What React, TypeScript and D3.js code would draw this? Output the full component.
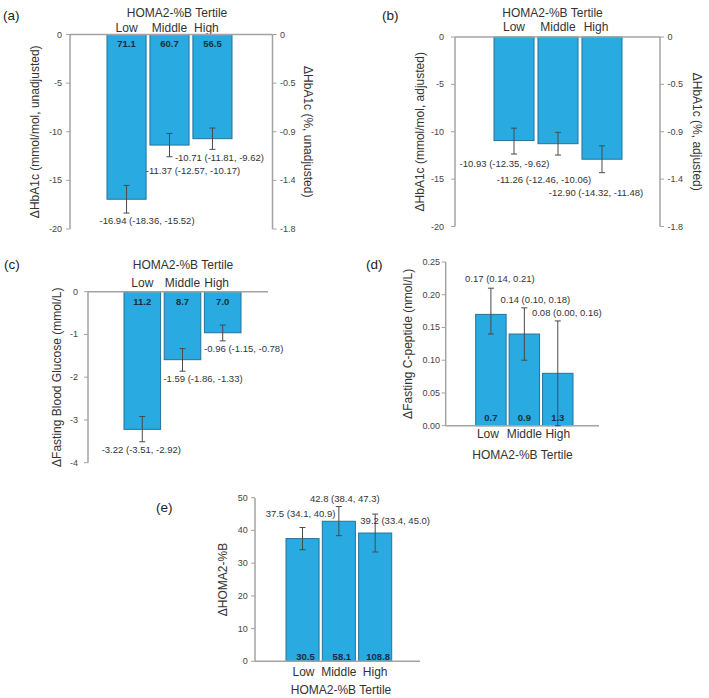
import * as d3 from "d3";
import React from "react";

// shared categories
const tertiles = ["Low", "Middle", "High"];

// (a) HbA1c unadjusted
const hbUnadj = [-16.94, -11.37, -10.71];
const hbUnadjLo = [-18.36, -12.57, -11.81];
const hbUnadjHi = [-15.52, -10.17, -9.62];
const hbBaseline = ["71.1", "60.7", "56.5"];

// (b) HbA1c adjusted
const hbAdj = [-10.93, -11.26, -12.9];
const hbAdjLo = [-12.35, -12.46, -14.32];
const hbAdjHi = [-9.62, -10.06, -11.48];

// (c) fasting blood glucose
const fbg = [-3.22, -1.59, -0.96];
const fbgLo = [-3.51, -1.86, -1.15];
const fbgHi = [-2.92, -1.33, -0.78];
const fbgBaseline = ["11.2", "8.7", "7.0"];

// (d) fasting C-peptide
const cpep = [0.17, 0.14, 0.08];
const cpepLo = [0.14, 0.1, 0.0];
const cpepHi = [0.21, 0.18, 0.16];
const cpepBaseline = ["0.7", "0.9", "1.3"];

// (e) HOMA2-%B
const homa = [37.5, 42.8, 39.2];
const homaLo = [34.1, 38.4, 33.4];
const homaHi = [40.9, 47.3, 45.0];
const homaBaseline = ["30.5", "58.1", "108.8"];

// tick values / labels
const hbTicks = [0, -5, -10, -15, -20];
const hbPctLabels = ["0", "-0.5", "-0.9", "-1.4", "-1.8"];
const fbgTicks = [0, -1, -2, -3, -4];
const cpepTicks = [0, 0.05, 0.1, 0.15, 0.2, 0.25];
const homaTicks = [0, 10, 20, 30, 40, 50];

const FONT = "'Liberation Sans', Arial, Helvetica, sans-serif";
const BAR_FILL = "#29abe2";
const BAR_STROKE = "#22739c";
const AXIS = "#a3a3a3";

type Panel = {
  tag: string;
  tagPos: [number, number];
  axisX: number;
  rightX?: number;
  lineEnd: number;
  yRange: [number, number];
  domain: [number, number];
  ticks: number[];
  tickFmt: (v: number) => string;
  tickEnd: number;
  rightLabels?: string[];
  band: [number, number];
  values: number[];
  lo: number[];
  hi: number[];
  digits: number;
  whisker: "lo" | "hi";
  labelOff: [number, number][];
  inside?: string[];
  insideDy: number;
  insideDx?: number;
  leftTitle: string;
  leftTitleX: number;
  rightTitle?: string;
  rightTitleX?: number;
  catY: number;
  catDx: number[];
  title: [number, number];
};

const panels: Panel[] = [
  {
    tag: "(a)", tagPos: [3, 20], axisX: 70, rightX: 272.5, lineEnd: 272.5,
    yRange: [229, 34.5], domain: [-20, 0], ticks: hbTicks, tickFmt: (v) => String(v), tickEnd: 62,
    rightLabels: hbPctLabels, band: [107, 232],
    values: hbUnadj, lo: hbUnadjLo, hi: hbUnadjHi, digits: 2, whisker: "lo",
    labelOff: [[20.5, 11], [23.5, 17], [7, 12]],
    inside: hbBaseline, insideDy: 12,
    leftTitle: "ΔHbA1c (mmol/mol, unadjusted)", leftTitleX: 35,
    rightTitle: "ΔHbA1c (%, unadjusted)", rightTitleX: 308,
    catY: 32, catDx: [0, 0, -6], title: [177, 17],
  },
  {
    tag: "(b)", tagPos: [382, 20], axisX: 455, rightX: 660, lineEnd: 660,
    yRange: [226.5, 37], domain: [-20, 0], ticks: hbTicks, tickFmt: (v) => String(v), tickEnd: 444,
    rightLabels: hbPctLabels, band: [494, 622],
    values: hbAdj, lo: hbAdjLo, hi: hbAdjHi, digits: 2, whisker: "lo",
    labelOff: [[-9.5, 12.7], [-14, 27.6], [-6, 23.5]],
    insideDy: 0,
    leftTitle: "ΔHbA1c (mmol/mol, adjusted)", leftTitleX: 420,
    rightTitle: "ΔHbA1c (%, adjusted)", rightTitleX: 697,
    catY: 31, catDx: [0, 0, -6], title: [552.5, 16.5],
  },
  {
    tag: "(c)", tagPos: [4, 269], axisX: 88, lineEnd: 268,
    yRange: [462.7, 291.7], domain: [-4, 0], ticks: fbgTicks, tickFmt: (v) => String(v), tickEnd: 78,
    band: [124, 241],
    values: fbg, lo: fbgLo, hi: fbgHi, digits: 2, whisker: "lo",
    labelOff: [[-1, 11.7], [20.5, 11], [21, 11]],
    inside: fbgBaseline, insideDy: 13.3,
    leftTitle: "ΔFasting Blood Glucose (mmol/L)", leftTitleX: 57,
    catY: 287, catDx: [0, 0, -6], title: [183, 269],
  },
  {
    tag: "(d)", tagPos: [366, 269], axisX: 445.7, lineEnd: 599,
    yRange: [425.7, 262], domain: [0, 0.25], ticks: cpepTicks, tickFmt: (v) => v.toFixed(2), tickEnd: 440,
    band: [475.7, 573],
    values: cpep, lo: cpepLo, hi: cpepHi, digits: 2, whisker: "hi",
    labelOff: [[9, -5.7], [11, -5.3], [9, -4.5]],
    inside: cpepBaseline, insideDy: -5.2,
    leftTitle: "ΔFasting C-peptide (nmol/L)", leftTitleX: 408,
    catY: 438, catDx: [-3, 0, 0], title: [522.5, 459],
  },
  {
    tag: "(e)", tagPos: [156, 512], axisX: 255, lineEnd: 420,
    yRange: [661.3, 497.7], domain: [0, 50], ticks: homaTicks, tickFmt: (v) => String(v), tickEnd: 247.7,
    band: [286, 391.7],
    values: homa, lo: homaLo, hi: homaHi, digits: 1, whisker: "hi",
    labelOff: [[-2, -10], [6, -5], [20, 10.4]],
    inside: homaBaseline, insideDy: -1.8, insideDx: 3,
    leftTitle: "ΔHOMA2-%B", leftTitleX: 223,
    catY: 676, catDx: [1, 0, 0], title: [341, 694],
  },
];

function BarPanel({ p }: { p: Panel }) {
  const y = d3.scaleLinear().domain(p.domain).range(p.yRange);
  const x = d3.scaleBand<string>().domain(tertiles).range(p.band).paddingInner(0.09);
  const y0 = y(0);
  const midY = (p.yRange[0] + p.yRange[1]) / 2;
  const bw = x.bandwidth();

  return (
    <g>
      <text x={p.tagPos[0]} y={p.tagPos[1]} fontSize={13.5} fill="#222">{p.tag}</text>
      <text x={p.title[0]} y={p.title[1]} fontSize={12} textAnchor="middle" fill="#333">HOMA2-%B Tertile</text>
      {tertiles.map((t, i) => (
        <text key={t} x={x(t)! + bw / 2 + p.catDx[i]} y={p.catY} fontSize={12} textAnchor="middle" fill="#333">{t}</text>
      ))}

      {/* bars */}
      {p.values.map((v, i) => (
        <rect key={i} x={x(tertiles[i])} y={Math.min(y(v), y0)} width={bw}
          height={Math.abs(y(v) - y0)} fill={BAR_FILL} stroke={BAR_STROKE} strokeWidth={1} />
      ))}

      {/* axes */}
      <line x1={p.axisX} x2={p.axisX} y1={p.yRange[1]} y2={p.yRange[0]} stroke={AXIS} strokeWidth={1.5} />
      {p.rightX && (
        <line x1={p.rightX} x2={p.rightX} y1={p.yRange[1]} y2={p.yRange[0]} stroke={AXIS} strokeWidth={1.5} />
      )}
      <line x1={p.axisX} x2={p.lineEnd} y1={y0} y2={y0} stroke={AXIS} strokeWidth={1.5} />
      {p.ticks.map((t, i) => (
        <g key={i}>
          <line x1={p.axisX - 4} x2={p.axisX} y1={y(t)} y2={y(t)} stroke={AXIS} strokeWidth={1} />
          <text x={p.tickEnd} y={y(t) + 3} fontSize={9} textAnchor="end" fill="#444">{p.tickFmt(t)}</text>
          {p.rightX && p.rightLabels && (
            <>
              <line x1={p.rightX} x2={p.rightX + 4} y1={y(t)} y2={y(t)} stroke={AXIS} strokeWidth={1} />
              <text x={p.rightX + 7.5} y={y(t) + 3} fontSize={9} fill="#444">{p.rightLabels[i]}</text>
            </>
          )}
        </g>
      ))}

      {/* error bars */}
      {p.values.map((v, i) => {
        const cx = x(tertiles[i])! + bw / 2;
        return (
          <g key={i} stroke="#4a4a4a" strokeWidth={1}>
            <line x1={cx} x2={cx} y1={y(p.lo[i])} y2={y(p.hi[i])} />
            <line x1={cx - 3} x2={cx + 3} y1={y(p.lo[i])} y2={y(p.lo[i])} />
            <line x1={cx - 3} x2={cx + 3} y1={y(p.hi[i])} y2={y(p.hi[i])} />
          </g>
        );
      })}

      {/* estimate labels */}
      {p.values.map((v, i) => {
        const cx = x(tertiles[i])! + bw / 2;
        const wy = y(p.whisker === "lo" ? p.lo[i] : p.hi[i]);
        const [dx, dy] = p.labelOff[i];
        const txt = `${v.toFixed(p.digits)} (${p.lo[i].toFixed(p.digits)}, ${p.hi[i].toFixed(p.digits)})`;
        return (
          <text key={i} x={cx + dx} y={wy + dy} fontSize={9.5} textAnchor="middle" fill="#333">{txt}</text>
        );
      })}

      {/* baseline means inside bars */}
      {p.inside && p.inside.map((s, i) => (
        <text key={i} x={x(tertiles[i])! + bw / 2 + (p.insideDx || 0)} y={y0 + p.insideDy}
          fontSize={9.5} fontWeight="bold" textAnchor="middle" fill="#1c2a44">{s}</text>
      ))}

      {/* axis titles */}
      <text transform={`translate(${p.leftTitleX},${midY}) rotate(-90)`} fontSize={12} textAnchor="middle"
        dominantBaseline="central" fill="#333">{p.leftTitle}</text>
      {p.rightTitle && (
        <text transform={`translate(${p.rightTitleX},${midY}) rotate(90)`} fontSize={12} textAnchor="middle"
          dominantBaseline="central" fill="#333">{p.rightTitle}</text>
      )}
    </g>
  );
}

export default function App() {
  return (
    <svg width={709} height={698} style={{ position: "absolute", left: 0, top: 0, background: "#fff" }}
      fontFamily={FONT}>
      <rect width={709} height={698} fill="#fff" />
      {panels.map((p) => (
        <BarPanel key={p.tag} p={p} />
      ))}
    </svg>
  );
}
